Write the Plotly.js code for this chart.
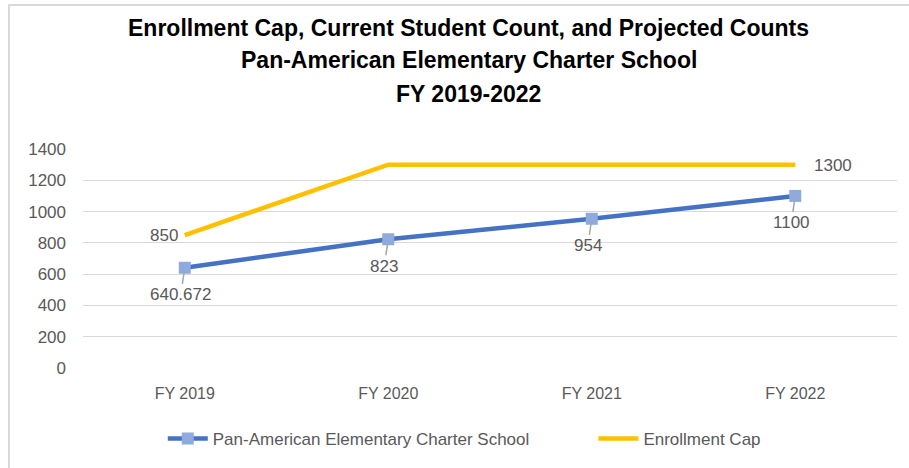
<!DOCTYPE html>
<html>
<head>
<meta charset="utf-8">
<script src="https://cdn.plot.ly/plotly-3.0.1.min.js"></script>
<style>
  body { margin: 0; background: #fff; }
  #frame { position: absolute; left: 8px; top: 4px; width: 960px; height: 520px;
           border-left: 2px solid #d9d9d9; border-top: 2px solid #d9d9d9; }
  #chart { position: absolute; left: 0; top: 0; width: 909px; height: 468px; }
</style>
</head>
<body>
<div id="frame"></div>
<div id="chart"></div>
<script>
const years = ["FY 2019", "FY 2020", "FY 2021", "FY 2022"];
const schoolCounts = [640.672, 823, 954, 1100];
const schoolLabels = ["640.672", "823", "954", "1100"];
const capCounts = [850, 1300, 1300, 1300];
const capLabels = ["850", "", "", "1300"];
const yTicks = [0, 200, 400, 600, 800, 1000, 1200, 1400];

const grey = "#595959";
const font = "Liberation Sans, Arial, sans-serif";

const school = {
    x: years,
    y: schoolCounts,
    name: "Pan-American Elementary Charter School",
    type: "scatter",
    mode: "lines+markers",
    line: { color: "#4472C4", width: 4.5 },
    marker: { symbol: "square", size: 12, color: "#8FAADC" },
    legend: "legend",
    hoverinfo: "x+y"
};

const cap = {
    x: years,
    y: capCounts,
    name: "Enrollment Cap",
    type: "scatter",
    mode: "lines",
    line: { color: "#FFC000", width: 4.5 },
    legend: "legend2",
    hoverinfo: "x+y"
};

const annotations = [];

// labels under the school points, with a short leader line
schoolLabels.forEach((t, i) => {
    annotations.push({
        x: years[i], y: schoolCounts[i], xref: "x", yref: "y",
        text: t, showarrow: true, arrowhead: 0, arrowwidth: 1.5,
        arrowcolor: "#a6a6a6", standoff: 4, ax: -4, ay: 27,
        font: { family: font, size: 17, color: grey }
    });
});

// cap labels, first on the left, last on the right
capLabels.forEach((t, i) => {
    if (!t) return;
    const left = i === 0;
    annotations.push({
        x: years[i], y: capCounts[i], xref: "x", yref: "y",
        text: t, showarrow: false,
        xanchor: left ? "right" : "left",
        xshift: left ? -5 : 17, yshift: left ? 0 : -1,
        font: { family: font, size: 17, color: grey }
    });
});

// title lines
const titleLines = [
    "Enrollment Cap, Current Student Count, and Projected Counts",
    "Pan-American Elementary Charter School",
    "FY 2019-2022"
];
const titleY = [1.5545, 1.407, 1.253];
titleLines.forEach((t, i) => {
    annotations.push({
        x: 0.474, y: titleY[i], xref: "paper", yref: "paper",
        xanchor: "center", yanchor: "middle", showarrow: false,
        text: "<b>" + t + "</b>",
        font: { family: font, size: 23, color: "#000" }
    });
});

const legendStyle = {
    orientation: "h",
    xanchor: "left",
    y: -0.318, yanchor: "middle",
    font: { family: font, size: 17, color: grey },
    itemwidth: 40,
    bgcolor: "rgba(0,0,0,0)"
};

const layout = {
    width: 909,
    height: 468,
    margin: { l: 83, r: 12, t: 149, b: 99 },
    paper_bgcolor: "rgba(0,0,0,0)",
    plot_bgcolor: "rgba(0,0,0,0)",
    font: { family: font, size: 17, color: grey },
    showlegend: true,
    legend: Object.assign({ x: 0.098 }, legendStyle),
    legend2: Object.assign({ x: 0.627 }, legendStyle),
    xaxis: {
        type: "category",
        range: [-0.5, 3.5],
        showgrid: false,
        zeroline: false,
        showline: false,
        ticks: "",
        ticklabelstandoff: 14,
        tickfont: { family: font, size: 16, color: grey }
    },
    yaxis: {
        range: [0, 1400],
        tickvals: yTicks,
        gridcolor: "#d9d9d9",
        gridwidth: 1.3,
        zeroline: false,
        showline: false,
        ticks: "",
        ticklabelstandoff: 16,
        tickfont: { family: font, size: 17, color: grey }
    },
    annotations: annotations
};

Plotly.newPlot("chart", [school, cap], layout, { displayModeBar: false, responsive: false });
</script>
</body>
</html>
